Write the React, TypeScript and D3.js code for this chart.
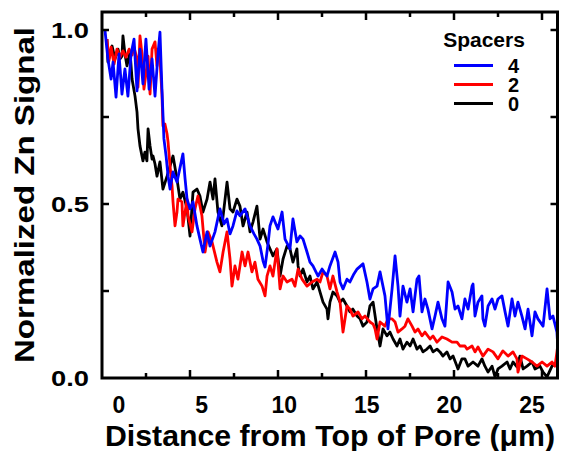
import React from "react";
import * as d3 from "d3";

type P = [number, number];

// Series: 4 spacers (blue)
const spacers4: P[] = [
  [-0.85, 1.0], [-0.67, 0.917], [-0.48, 0.859], [-0.36, 0.908], [-0.18, 0.807], [0.0, 0.931],
  [0.18, 0.816], [0.36, 0.888], [0.54, 0.81], [0.73, 0.931], [0.91, 0.974], [1.09, 0.825],
  [1.27, 0.945], [1.45, 0.845], [1.63, 0.974], [1.82, 0.83], [2.0, 0.917], [2.18, 0.81],
  [2.36, 0.931], [2.48, 0.994], [2.6, 0.83], [2.72, 0.687], [2.85, 0.638], [2.97, 0.58],
  [3.09, 0.543], [3.27, 0.592], [3.51, 0.563], [3.87, 0.644], [4.0, 0.572], [4.12, 0.514],
  [4.3, 0.486], [4.48, 0.506], [4.72, 0.437], [4.9, 0.399], [5.08, 0.362], [5.33, 0.42],
  [5.51, 0.379], [5.81, 0.42], [6.11, 0.486], [6.36, 0.443], [6.54, 0.457], [6.72, 0.414],
  [6.9, 0.437], [7.14, 0.48], [7.32, 0.466], [7.63, 0.486], [7.93, 0.437], [8.17, 0.414],
  [8.35, 0.399], [8.54, 0.379], [8.72, 0.336], [8.84, 0.319], [9.02, 0.385], [9.14, 0.437],
  [9.32, 0.463], [9.62, 0.428], [9.87, 0.477], [10.05, 0.399], [10.35, 0.371], [10.53, 0.457],
  [10.77, 0.391], [10.96, 0.408], [11.14, 0.399], [11.38, 0.362], [11.56, 0.333], [11.74, 0.322],
  [12.05, 0.293], [12.29, 0.313], [12.59, 0.293], [12.77, 0.322], [13.08, 0.362], [13.26, 0.333],
  [13.38, 0.276], [13.56, 0.256], [13.8, 0.284], [13.98, 0.276], [14.22, 0.299], [14.41, 0.313],
  [14.77, 0.328], [15.01, 0.276], [15.19, 0.227], [15.38, 0.256], [15.62, 0.264], [15.8, 0.305],
  [16.1, 0.236], [16.28, 0.141], [16.53, 0.256], [16.71, 0.351], [16.89, 0.264], [17.01, 0.178],
  [17.19, 0.264], [17.43, 0.218], [17.62, 0.256], [17.8, 0.19], [18.04, 0.284], [18.16, 0.293],
  [18.34, 0.19], [18.52, 0.227], [18.7, 0.198], [18.95, 0.141], [19.13, 0.178], [19.31, 0.218],
  [19.55, 0.17], [19.73, 0.149], [19.92, 0.276], [20.16, 0.247], [20.34, 0.198], [20.52, 0.207],
  [20.76, 0.17], [20.94, 0.227], [21.13, 0.198], [21.37, 0.264], [21.43, 0.27], [21.55, 0.178],
  [21.73, 0.218], [21.97, 0.236], [22.03, 0.17], [22.15, 0.149], [22.34, 0.207], [22.58, 0.227],
  [22.76, 0.198], [22.94, 0.227], [23.18, 0.236], [23.37, 0.19], [23.55, 0.149], [23.79, 0.227],
  [23.97, 0.178], [24.15, 0.218], [24.39, 0.178], [24.58, 0.141], [24.76, 0.198], [25.0, 0.121],
  [25.18, 0.19], [25.36, 0.17], [25.67, 0.149], [25.91, 0.256], [26.09, 0.17], [26.27, 0.178],
  [26.51, 0.132], [26.57, 0.083],
];

// Series: 2 spacers (red)
const spacers2: P[] = [
  [-0.73, 0.974], [-0.61, 0.911], [-0.48, 0.951], [-0.3, 0.902], [-0.12, 0.945], [0.06, 0.922],
  [0.24, 0.94], [0.42, 0.922], [0.61, 0.945], [0.79, 0.928], [0.91, 0.951], [1.09, 0.917],
  [1.15, 0.836], [1.27, 0.983], [1.39, 0.931], [1.51, 0.83], [1.63, 0.874], [1.76, 0.925],
  [1.88, 0.816], [2.0, 0.945], [2.18, 0.966], [2.3, 0.897], [2.36, 0.945], [2.48, 0.917],
  [2.6, 0.816], [2.66, 0.724], [2.78, 0.73], [2.91, 0.701], [2.97, 0.678], [3.09, 0.609],
  [3.21, 0.552], [3.27, 0.506], [3.39, 0.437], [3.51, 0.477], [3.57, 0.514], [3.81, 0.506],
  [3.87, 0.437], [4.12, 0.514], [4.18, 0.466], [4.42, 0.42], [4.6, 0.486], [4.78, 0.523],
  [5.02, 0.466], [5.21, 0.362], [5.39, 0.42], [5.63, 0.391], [5.93, 0.333], [6.11, 0.305],
  [6.3, 0.362], [6.54, 0.42], [6.72, 0.342], [6.84, 0.264], [7.02, 0.322], [7.2, 0.284],
  [7.45, 0.362], [7.63, 0.322], [7.81, 0.362], [8.05, 0.305], [8.23, 0.333], [8.41, 0.284],
  [8.66, 0.264], [8.84, 0.236], [8.96, 0.293], [9.14, 0.322], [9.32, 0.293], [9.56, 0.371],
  [9.75, 0.256], [9.93, 0.293], [10.17, 0.276], [10.47, 0.284], [10.65, 0.264], [10.84, 0.313],
  [11.08, 0.284], [11.38, 0.264], [11.68, 0.276], [11.99, 0.284], [12.17, 0.276], [12.35, 0.305],
  [12.59, 0.293], [12.77, 0.256], [12.95, 0.293], [13.2, 0.247], [13.38, 0.218], [13.56, 0.132],
  [13.8, 0.207], [13.98, 0.198], [14.16, 0.178], [14.47, 0.19], [14.71, 0.17], [14.89, 0.178],
  [15.19, 0.161], [15.38, 0.155], [15.5, 0.141], [15.62, 0.112], [15.8, 0.161], [16.1, 0.149],
  [16.28, 0.17], [16.53, 0.17], [16.71, 0.161], [16.89, 0.132], [17.13, 0.141], [17.31, 0.149],
  [17.49, 0.17], [17.74, 0.149], [17.92, 0.132], [18.1, 0.141], [18.34, 0.121], [18.52, 0.132],
  [18.83, 0.112], [19.01, 0.121], [19.25, 0.103], [19.55, 0.118], [19.85, 0.112], [20.16, 0.103],
  [20.46, 0.103], [20.64, 0.092], [20.94, 0.092], [21.07, 0.083], [21.37, 0.092], [21.55, 0.075],
  [21.73, 0.089], [22.03, 0.063], [22.34, 0.083], [22.64, 0.075], [22.94, 0.055], [23.24, 0.078],
  [23.55, 0.063], [23.85, 0.075], [24.09, 0.055], [24.15, 0.017], [24.39, 0.063], [24.7, 0.055],
  [25.0, 0.046], [25.3, 0.034], [25.61, 0.046], [25.91, 0.034], [26.21, 0.046], [26.39, 0.034],
  [26.51, 0.075], [26.57, 0.098],
];

// Series: 0 spacers (black)
const spacers0: P[] = [
  [-0.73, 0.974], [-0.67, 0.908], [-0.54, 0.931], [-0.42, 0.954], [-0.24, 0.917], [-0.06, 0.945],
  [0.06, 0.917], [0.18, 0.925], [0.24, 0.983], [0.36, 0.931], [0.48, 0.897], [0.67, 0.937],
  [0.79, 0.859], [0.97, 0.81], [1.09, 0.764], [1.15, 0.716], [1.27, 0.667], [1.39, 0.638],
  [1.45, 0.624], [1.57, 0.649], [1.69, 0.624], [1.76, 0.716], [1.88, 0.667], [2.0, 0.629],
  [2.06, 0.638], [2.18, 0.615], [2.3, 0.58], [2.48, 0.621], [2.66, 0.543], [2.91, 0.58],
  [3.09, 0.609], [3.27, 0.638], [3.51, 0.572], [3.69, 0.514], [3.87, 0.534], [4.12, 0.486],
  [4.3, 0.408], [4.48, 0.534], [4.72, 0.543], [4.9, 0.523], [5.08, 0.477], [5.33, 0.514],
  [5.51, 0.563], [5.69, 0.514], [5.81, 0.572], [5.99, 0.477], [6.23, 0.437], [6.42, 0.514],
  [6.54, 0.563], [6.72, 0.486], [6.9, 0.477], [7.14, 0.514], [7.32, 0.494], [7.51, 0.437],
  [7.75, 0.477], [7.93, 0.42], [8.11, 0.448], [8.35, 0.494], [8.54, 0.399], [8.72, 0.428],
  [8.96, 0.391], [9.14, 0.371], [9.32, 0.351], [9.56, 0.371], [9.75, 0.293], [9.93, 0.342],
  [10.17, 0.379], [10.35, 0.371], [10.53, 0.333], [10.77, 0.371], [10.84, 0.322], [10.96, 0.293],
  [11.14, 0.313], [11.38, 0.276], [11.56, 0.293], [11.74, 0.256], [11.99, 0.276], [12.17, 0.247],
  [12.35, 0.218], [12.59, 0.198], [12.65, 0.17], [12.77, 0.218], [12.95, 0.247], [13.2, 0.236],
  [13.38, 0.218], [13.56, 0.227], [13.8, 0.207], [13.98, 0.19], [14.16, 0.198], [14.41, 0.178],
  [14.59, 0.17], [14.77, 0.149], [15.01, 0.161], [15.19, 0.207], [15.38, 0.218], [15.62, 0.141],
  [15.8, 0.092], [15.98, 0.141], [16.22, 0.121], [16.4, 0.132], [16.59, 0.112], [16.83, 0.092],
  [17.01, 0.112], [17.19, 0.083], [17.43, 0.103], [17.62, 0.092], [17.8, 0.112], [18.04, 0.083],
  [18.22, 0.092], [18.4, 0.075], [18.64, 0.083], [18.83, 0.092], [19.01, 0.075], [19.25, 0.083],
  [19.43, 0.075], [19.61, 0.063], [19.85, 0.075], [20.04, 0.055], [20.22, 0.063], [20.46, 0.034],
  [20.52, 0.026], [20.76, 0.055], [20.94, 0.055], [21.13, 0.034], [21.43, 0.046], [21.73, 0.034],
  [21.97, 0.055], [22.15, 0.034], [22.34, 0.017], [22.58, 0.034], [22.76, 0.003], [22.94, 0.026],
  [23.18, 0.034], [23.49, 0.046], [23.67, 0.026], [23.85, 0.046], [24.09, 0.032], [24.27, 0.063],
  [24.46, 0.026], [24.7, 0.034], [25.0, 0.046], [25.18, 0.026], [25.48, 0.034], [25.67, 0.017],
  [25.91, 0.003], [26.21, 0.034], [26.51, 0.046],
];

const xTickLabels = [0, 5, 10, 15, 20, 25];
const xTickMarks = [2.5, 5, 7.5, 10, 12.5, 15, 17.5, 20, 22.5, 25];
const yTickLabels = [0, 0.5, 1.0];
const yTickMarks = [0.25, 0.5, 0.75, 1.0];

const seriesList = [
  { name: "0", color: "#000000", data: spacers0 },
  { name: "2", color: "#ff0000", data: spacers2 },
  { name: "4", color: "#0000ff", data: spacers4 },
];
const legendOrder = [
  { name: "4", color: "#0000ff" },
  { name: "2", color: "#ff0000" },
  { name: "0", color: "#000000" },
];

const FONT = "'Liberation Sans', Arial, sans-serif";

export default function App() {
  const W = 563;
  const H = 451;
  const left = 102;
  const right = 557.5;
  const top = 12;
  const bottom = 378;

  const x = d3.scaleLinear().domain([0, 25]).range([119, 532]);
  const xt = d3.scaleLinear().domain([0, 25]).range([102, 542]);
  const y = d3.scaleLinear().domain([0, 1]).range([378, 30]);

  const line = d3
    .line<P>()
    .x((d) => x(d[0]))
    .y((d) => y(d[1]));

  return (
    <div style={{ position: "absolute", left: 0, top: 0 }}>
      <svg width={W} height={H} style={{ display: "block", background: "#fff" }}>
        <defs>
          <clipPath id="plotclip">
            <rect x={left} y={top} width={right - left} height={bottom - top} />
          </clipPath>
        </defs>
        <g clipPath="url(#plotclip)">
          {seriesList.map((s) => (
            <path
              key={s.name}
              d={line(s.data) || ""}
              fill="none"
              stroke={s.color}
              strokeWidth={2.8}
              strokeLinejoin="round"
            />
          ))}
        </g>
        {/* frame */}
        <rect x={left} y={top} width={right - left} height={bottom - top} fill="none" stroke="#000" strokeWidth={3} />
        {/* x ticks bottom & top */}
        {xTickMarks.map((v) => {
          const len = v % 5 === 0 ? 8 : 5;
          const px = xt(v);
          return (
            <g key={"xt" + v}>
              <line x1={px} x2={px} y1={bottom} y2={bottom - len} stroke="#000" strokeWidth={2.5} />
              <line x1={px} x2={px} y1={top} y2={top + len} stroke="#000" strokeWidth={2.5} />
            </g>
          );
        })}
        {/* y ticks left & right */}
        {yTickMarks.map((v) => {
          const py = y(v);
          return (
            <g key={"yt" + v}>
              <line x1={left} x2={left + 7} y1={py} y2={py} stroke="#000" strokeWidth={2.5} />
              <line x1={right} x2={right - 7} y1={py} y2={py} stroke="#000" strokeWidth={2.5} />
            </g>
          );
        })}
        {/* x tick labels */}
        {xTickLabels.map((v) => (
          <text
            key={"xl" + v}
            x={x(v)}
            y={413}
            textAnchor="middle"
            fontFamily={FONT}
            fontWeight="bold"
            fontSize={23}
          >
            {v}
          </text>
        ))}
        {/* y tick labels */}
        {yTickLabels.map((v) => (
          <text
            key={"yl" + v}
            x={89}
            y={y(v) + 8}
            textAnchor="end"
            fontFamily={FONT}
            fontWeight="bold"
            fontSize={22}
            textLength={38}
            lengthAdjust="spacingAndGlyphs"
          >
            {v.toFixed(1)}
          </text>
        ))}
        {/* axis titles */}
        <text
          x={330}
          y={446}
          textAnchor="middle"
          fontFamily={FONT}
          fontWeight="bold"
          fontSize={30}
          textLength={450}
          lengthAdjust="spacingAndGlyphs"
        >
          Distance from Top of Pore (μm)
        </text>
        <text
          transform={`translate(34,195) rotate(-90)`}
          textAnchor="middle"
          fontFamily={FONT}
          fontWeight="bold"
          fontSize={27}
          textLength={336}
          lengthAdjust="spacingAndGlyphs"
        >
          Normalized Zn Signal
        </text>
        {/* legend */}
        <text x={484} y={47} textAnchor="middle" fontFamily={FONT} fontWeight="bold" fontSize={21}>
          Spacers
        </text>
        {legendOrder.map((s, i) => {
          const ly = 65.5 + i * 19;
          return (
            <g key={"lg" + s.name}>
              <line x1={454} x2={493} y1={ly} y2={ly} stroke={s.color} strokeWidth={3} />
              <text x={508} y={ly + 7.5} fontFamily={FONT} fontWeight="bold" fontSize={20}>
                {s.name}
              </text>
            </g>
          );
        })}
      </svg>
    </div>
  );
}
